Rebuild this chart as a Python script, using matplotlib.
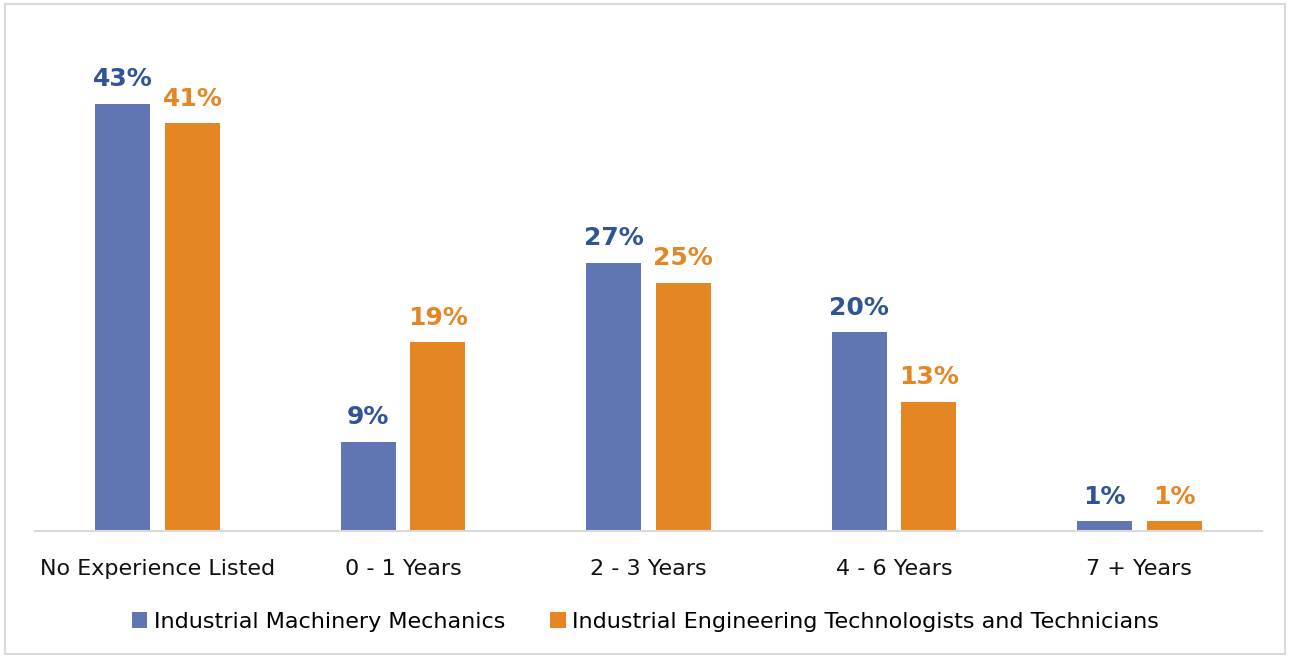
import numpy as np
import matplotlib.pyplot as plt
from matplotlib.patches import Rectangle

categories = ["No Experience Listed", "0 - 1 Years", "2 - 3 Years", "4 - 6 Years", "7 + Years"]
mechanics = [43, 9, 27, 20, 1]
technicians = [41, 19, 25, 13, 1]
series_names = ["Industrial Machinery Mechanics",
                "Industrial Engineering Technologists and Technicians"]

blue = "#6076B4"
orange = "#E58624"
blue_txt = "#2F5597"

plt.rcParams['font.family'] = ['DejaVu Sans']

fig = plt.figure(figsize=(12.91, 6.58), dpi=100)
ax = fig.add_axes([35 / 1291, 1 - 531 / 658, 1227 / 1291, 497 / 658])

x = np.arange(len(categories))
w = 0.224
off = 0.142
b1 = ax.bar(x - off, mechanics, w, color=blue, label=series_names[0])
b2 = ax.bar(x + off, technicians, w, color=orange, label=series_names[1])

for bars, vals, col in [(b1, mechanics, blue_txt), (b2, technicians, orange)]:
    for bar, v in zip(bars, vals):
        ax.annotate(f"{v}%", (bar.get_x() + bar.get_width() / 2, v),
                    xytext=(0, 9), textcoords="offset points",
                    ha="center", va="bottom", fontsize=18, fontweight="bold", color=col)

ax.set_xlim(-0.5, len(categories) - 0.5)
ax.set_ylim(0, 50)
ax.set_yticks([])
ax.set_xticks(x)
ax.set_xticklabels(categories, fontsize=16, color="#111111")
ax.tick_params(axis="x", length=0, pad=20)
for s in ["top", "right", "left"]:
    ax.spines[s].set_visible(False)
ax.spines["bottom"].set_color("#D9D9D9")
ax.spines["bottom"].set_linewidth(1.5)

fig.legend(loc="center", bbox_to_anchor=(0.5, 1 - 622 / 658), ncol=2, frameon=False,
           fontsize=16, handlelength=0.7, handleheight=0.7, handletextpad=0.3,
           columnspacing=2.0)

fig.patches.append(Rectangle((5 / 1291, 4 / 658), 1280 / 1291, 650 / 658,
                             transform=fig.transFigure, fill=False,
                             edgecolor="#D9D9D9", linewidth=1.5))

fig.savefig("out.png", dpi=100)
